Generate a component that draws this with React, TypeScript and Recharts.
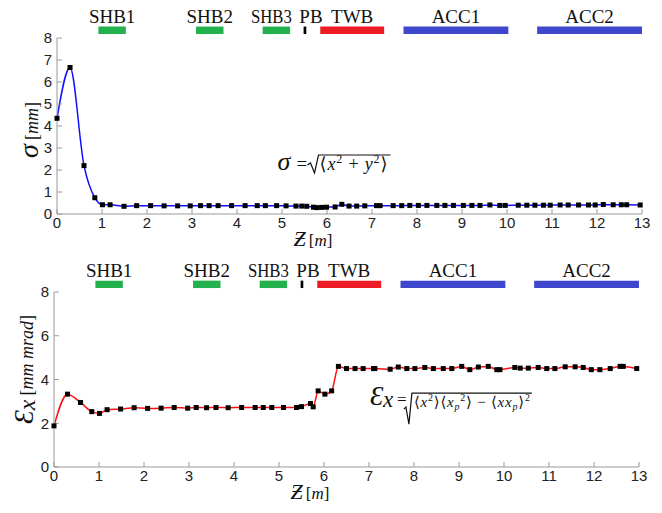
import React from 'react';
import { LineChart, Line, XAxis, YAxis, ReferenceArea, ReferenceDot } from 'recharts';

// beamline sections (z in metres)
const blockNames = ['SHB1', 'SHB2', 'SHB3', 'PB', 'TWB', 'ACC1', 'ACC2'];
const blockStart = [0.92, 3.09, 4.57, 5.48, 5.85, 7.7, 10.67];
const blockEnd = [1.53, 3.7, 5.18, 5.54, 7.27, 10.03, 13.0];
const blockColors = ['#22b14c', '#22b14c', '#22b14c', '#000000', '#ed1c24', '#3f48cc', '#3f48cc'];

const zTicks = [0, 1, 2, 3, 4, 5, 6, 7, 8, 9, 10, 11, 12, 13];
const yTicks = [0, 1, 2, 3, 4, 5, 6, 7, 8];

// beam size sigma [mm]
const sigmaZ = [0, 0.29, 0.6, 0.84, 1.01, 1.18, 1.49, 1.77, 2.08, 2.38, 2.68, 2.96, 3.19, 3.38, 3.58, 3.88, 4.18, 4.45, 4.63, 4.88, 5.09, 5.31, 5.44, 5.55, 5.7, 5.77, 5.88, 5.99, 6.18, 6.33, 6.49, 6.66, 6.84, 7.1, 7.18, 7.47, 7.66, 7.84, 8.03, 8.22, 8.44, 8.62, 8.81, 9.03, 9.22, 9.4, 9.62, 9.84, 9.96, 10.25, 10.44, 10.62, 10.81, 10.96, 11.18, 11.36, 11.59, 11.81, 11.96, 12.14, 12.36, 12.54, 12.66, 12.96];
const sigmaVal = [4.35, 6.66, 2.2, 0.74, 0.42, 0.42, 0.35, 0.38, 0.38, 0.37, 0.37, 0.37, 0.38, 0.38, 0.38, 0.38, 0.38, 0.38, 0.38, 0.38, 0.37, 0.36, 0.36, 0.35, 0.31, 0.29, 0.3, 0.31, 0.32, 0.44, 0.36, 0.36, 0.37, 0.38, 0.38, 0.38, 0.38, 0.39, 0.39, 0.39, 0.39, 0.39, 0.39, 0.39, 0.39, 0.39, 0.41, 0.39, 0.39, 0.4, 0.4, 0.4, 0.4, 0.4, 0.41, 0.41, 0.41, 0.41, 0.41, 0.43, 0.42, 0.42, 0.42, 0.41];

// emittance [mm mrad]
const emitZ = [0, 0.3, 0.59, 0.84, 1.01, 1.18, 1.48, 1.78, 2.08, 2.38, 2.67, 2.97, 3.16, 3.39, 3.6, 3.87, 4.17, 4.47, 4.65, 4.84, 5.1, 5.39, 5.5, 5.7, 5.76, 5.87, 6.02, 6.17, 6.32, 6.5, 6.69, 6.87, 7.1, 7.13, 7.47, 7.65, 7.84, 8.02, 8.24, 8.43, 8.65, 8.84, 9.06, 9.24, 9.43, 9.65, 9.84, 9.91, 10.24, 10.36, 10.54, 10.76, 10.95, 11.13, 11.36, 11.58, 11.76, 11.94, 12.13, 12.36, 12.58, 12.65, 12.95];
const emitVal = [1.88, 3.33, 2.95, 2.53, 2.45, 2.62, 2.65, 2.71, 2.68, 2.69, 2.72, 2.69, 2.72, 2.71, 2.72, 2.71, 2.72, 2.72, 2.72, 2.72, 2.72, 2.72, 2.76, 2.9, 2.75, 3.48, 3.33, 3.48, 4.6, 4.5, 4.5, 4.5, 4.5, 4.5, 4.47, 4.57, 4.5, 4.5, 4.55, 4.5, 4.5, 4.5, 4.6, 4.45, 4.57, 4.6, 4.45, 4.45, 4.55, 4.52, 4.52, 4.55, 4.5, 4.5, 4.58, 4.58, 4.55, 4.45, 4.45, 4.5, 4.6, 4.6, 4.5];

const sigmaData = sigmaZ.map((z, i) => ({ z, v: sigmaVal[i] }));
const emitData = emitZ.map((z, i) => ({ z, v: emitVal[i] }));

const axisColor = '#9a9a9a';
const tickStyle = { fontFamily: "'Liberation Sans', Arial, sans-serif", fontSize: 15, fill: '#222' };
const serifStyle = { fontFamily: "'Liberation Serif', 'Times New Roman', 'DejaVu Serif', serif" };

const SquareDot = (props: any) => {
  const { cx, cy } = props;
  if (cx == null || cy == null) return <g />;
  return <rect x={cx - 2.5} y={cy - 2.5} width={5} height={5} fill="#000" />;
};

const BlockLabel = (name: string) => (p: any) => {
  const vb = p.viewBox;
  const shift = name === 'PB' ? 6 : name === 'SHB3' ? -5 : 0;
  const squeeze = name === 'SHB3' ? { textLength: 41, lengthAdjust: 'spacingAndGlyphs' } : {};
  return (
    <text x={vb.x + vb.width / 2 + shift} y={vb.y - 4} textAnchor="middle" style={serifStyle} fontSize={19} fill="#111" {...squeeze}>
      {name}
    </text>
  );
};

const ZLabel = (p: any) => {
  const vb = p.viewBox;
  const x = vb.x + vb.width / 2 - 56;
  const y = vb.y + 32;
  return (
    <text x={x} y={y} style={serifStyle} fill="#111">
      <tspan fontSize={22} fontStyle="italic">Ƶ</tspan>
      <tspan fontSize={17} dx={3}>[</tspan>
      <tspan fontSize={17} fontStyle="italic">m</tspan>
      <tspan fontSize={17}>]</tspan>
    </text>
  );
};

const SigmaLabel = (p: any) => {
  const vb = p.viewBox;
  const x = vb.x + 11;
  const y = vb.y + vb.height / 2 + 4;
  return (
    <text x={x} y={y} transform={`rotate(-90 ${x} ${y})`} textAnchor="middle" style={serifStyle} fill="#111">
      <tspan fontSize={28} fontStyle="italic">σ</tspan>
      <tspan fontSize={18} dx={4}>[</tspan>
      <tspan fontSize={18} fontStyle="italic">mm</tspan>
      <tspan fontSize={18}>]</tspan>
    </text>
  );
};

const EmitLabel = (p: any) => {
  const vb = p.viewBox;
  const x = vb.x + 9;
  const y = vb.y + vb.height / 2 - 10;
  return (
    <text x={x} y={y} transform={`rotate(-90 ${x} ${y})`} textAnchor="middle" style={serifStyle} fill="#111">
      <tspan fontSize={28} fontStyle="italic">Ɛ</tspan>
      <tspan fontSize={24} fontStyle="italic" dy={2}>x</tspan>
      <tspan fontSize={18} dx={4} dy={-2}>[</tspan>
      <tspan fontSize={18} fontStyle="italic">mm mrad</tspan>
      <tspan fontSize={18}>]</tspan>
    </text>
  );
};

const SigmaFormula = (p: any) => {
  const { cx, cy } = p;
  return (
    <g fill="#111" style={serifStyle}>
      <text x={cx} y={cy} fontSize={26} fontStyle="italic">σ</text>
      <text x={cx + 19} y={cy} fontSize={19}>=</text>
      <path d={`M${cx + 30} ${cy - 5} L${cx + 33} ${cy - 7} L${cx + 37} ${cy + 3} L${cx + 41} ${cy - 15} L${cx + 113} ${cy - 15}`} stroke="#111" strokeWidth={1.2} fill="none" />
      <text x={cx + 42} y={cy} fontSize={18} textLength={68} lengthAdjust="spacing">
        <tspan>⟨</tspan>
        <tspan fontStyle="italic">x</tspan>
        <tspan fontSize={12} dy={-7}>2</tspan>
        <tspan dy={7}> + </tspan>
        <tspan fontStyle="italic">y</tspan>
        <tspan fontSize={12} dy={-7}>2</tspan>
        <tspan dy={7}>⟩</tspan>
      </text>
    </g>
  );
};

const EmitFormula = (p: any) => {
  const { cx, cy } = p;
  return (
    <g fill="#111" style={serifStyle}>
      <text x={cx} y={cy} fontSize={27} fontStyle="italic">Ɛ</text>
      <text x={cx + 13} y={cy + 2} fontSize={23} fontStyle="italic">x</text>
      <text x={cx + 27} y={cy} fontSize={17}>=</text>
      <path d={`M${cx + 34} ${cy + 4} L${cx + 36} ${cy + 2} L${cx + 39} ${cy + 19} L${cx + 42} ${cy - 12} L${cx + 162} ${cy - 12}`} stroke="#111" strokeWidth={1.2} fill="none" />
      <text x={cx + 44} y={cy + 2} fontSize={15} textLength={116} lengthAdjust="spacing">
        <tspan>⟨</tspan>
        <tspan fontStyle="italic">x</tspan>
        <tspan fontSize={10} dy={-6}>2</tspan>
        <tspan dy={6}>⟩⟨</tspan>
        <tspan fontStyle="italic">x</tspan>
        <tspan fontSize={10} fontStyle="italic" dy={3}>p</tspan>
        <tspan fontSize={10} dy={-9}>2</tspan>
        <tspan dy={6}>⟩ − ⟨</tspan>
        <tspan fontStyle="italic">xx</tspan>
        <tspan fontSize={10} fontStyle="italic" dy={3}>p</tspan>
        <tspan dy={-3}>⟩</tspan>
        <tspan fontSize={10} dy={-6}>2</tspan>
      </text>
    </g>
  );
};

function renderBlocks() {
  return blockNames.map((name, i) => (
    <ReferenceArea
      key={name}
      x1={blockStart[i]}
      x2={blockEnd[i]}
      y1={8.18}
      y2={8.52}
      ifOverflow="visible"
      fill={blockColors[i]}
      fillOpacity={1}
      stroke="none"
      label={{ content: BlockLabel(name) }}
    />
  ));
}

function frameAxes() {
  return [
    <XAxis key="tx" xAxisId="top" orientation="top" type="number" dataKey="z" domain={[0, 13]} ticks={zTicks} height={0}
      stroke={axisColor} tickSize={-5} tick={() => <g />} />,
    <YAxis key="ry" yAxisId="right" orientation="right" type="number" domain={[0, 8]} ticks={yTicks} width={0}
      stroke={axisColor} tickSize={-5} tick={() => <g />} />,
  ];
}

export default function App() {
  return (
    <div style={{ position: 'absolute', left: 0, top: 0, width: 662, height: 513, background: '#fff' }}>
      <div style={{ position: 'absolute', left: 0, top: 0 }}>
        <LineChart width={662} height={256} data={sigmaData} margin={{ top: 38, right: 20, bottom: 12, left: 27 }}>
          <XAxis dataKey="z" type="number" domain={[0, 13]} ticks={zTicks} height={30} stroke={axisColor}
            tickSize={-5} tickMargin={8} tick={tickStyle} label={{ content: ZLabel }} />
          <YAxis type="number" domain={[0, 8]} ticks={yTicks} width={30} stroke={axisColor}
            tickSize={-5} tickMargin={10} tick={tickStyle} label={{ content: SigmaLabel }} />
          {frameAxes()}
          {renderBlocks()}
          <ReferenceDot x={4.9} y={2.0} ifOverflow="visible" shape={SigmaFormula} />
          <Line type="monotone" dataKey="v" stroke="#1010ff" strokeWidth={1.5} dot={<SquareDot />} isAnimationActive={false} />
        </LineChart>
      </div>
      <div style={{ position: 'absolute', left: 0, top: 250 }}>
        <LineChart width={662} height={263} data={emitData} margin={{ top: 42, right: 23, bottom: 16, left: 24 }}>
          <XAxis dataKey="z" type="number" domain={[0, 13]} ticks={zTicks} height={30} stroke={axisColor}
            tickSize={-5} tickMargin={8} tick={tickStyle} label={{ content: ZLabel }} />
          <YAxis type="number" domain={[0, 8]} ticks={yTicks} width={30} stroke={axisColor}
            tickSize={-5} tickMargin={10} tick={tickStyle} label={{ content: EmitLabel }} />
          {frameAxes()}
          {renderBlocks()}
          <ReferenceDot x={7.02} y={2.83} ifOverflow="visible" shape={EmitFormula} />
          <Line type="monotone" dataKey="v" stroke="#ff1010" strokeWidth={1.5} dot={<SquareDot />} isAnimationActive={false} />
        </LineChart>
      </div>
    </div>
  );
}
